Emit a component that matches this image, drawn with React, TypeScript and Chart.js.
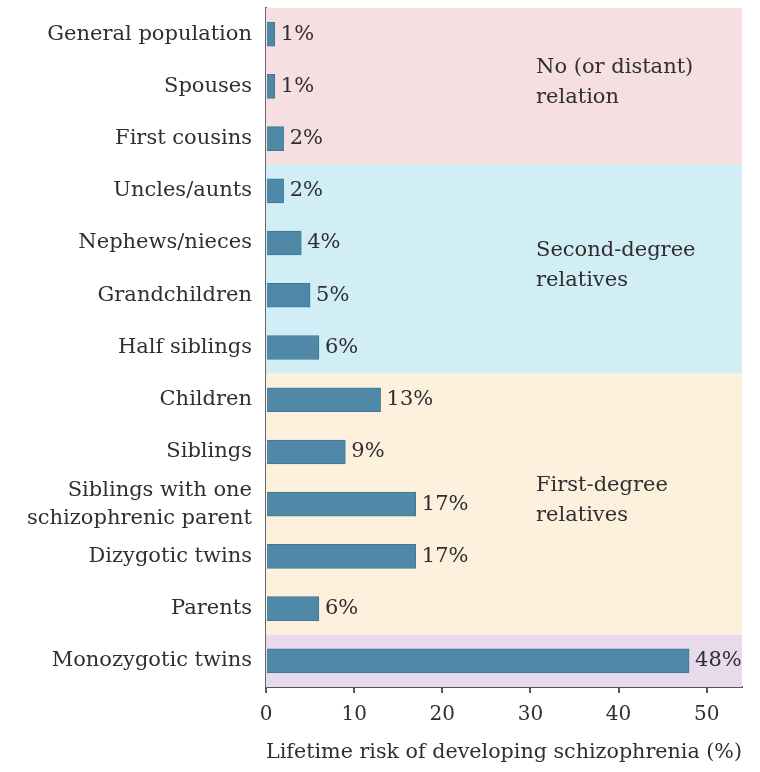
import React, { useEffect, useRef } from "react";
import { Chart, registerables } from "chart.js";

Chart.register(...registerables);

const categories: (string | string[])[] = [
  "General population",
  "Spouses",
  "First cousins",
  "Uncles/aunts",
  "Nephews/nieces",
  "Grandchildren",
  "Half siblings",
  "Children",
  "Siblings",
  ["Siblings with one", "schizophrenic parent"],
  "Dizygotic twins",
  "Parents",
  "Monozygotic twins",
];
const risks = [1, 1, 2, 2, 4, 5, 6, 13, 9, 17, 17, 6, 48];

const groupNames: string[][] = [
  ["No (or distant)", "relation"],
  ["Second-degree", "relatives"],
  ["First-degree", "relatives"],
  [],
];
const groupSizes = [3, 4, 5, 1];
const groupColors = ["#F5DFE0", "#D1EDF5", "#FDF1DE", "#E7DBEB"];

const xTicks = [0, 10, 20, 30, 40, 50];
const xMax = 54;
const xTitle = "Lifetime risk of developing schizophrenia (%)";

const FONT = "'DejaVu Serif', 'Liberation Serif', serif";
const FS = 21;
const TEXT = "#2f2f2f";

const bandsPlugin = {
  id: "bands",
  beforeDatasetsDraw(chart: any) {
    const { ctx, chartArea, scales } = chart;
    const y = scales.y;
    const step = y.getPixelForValue(1) - y.getPixelForValue(0);
    let start = 0;
    ctx.save();
    groupSizes.forEach((n, gi) => {
      const top = gi === 0 ? chartArea.top : y.getPixelForValue(start) - step / 2;
      const end = start + n - 1;
      const bottom = gi === groupSizes.length - 1 ? chartArea.bottom : y.getPixelForValue(end) + step / 2;
      ctx.fillStyle = groupColors[gi];
      ctx.fillRect(chartArea.left, top, chartArea.right - chartArea.left, bottom - top);
      const lines = groupNames[gi];
      if (lines.length) {
        ctx.fillStyle = TEXT;
        ctx.font = `${FS}px ${FONT}`;
        ctx.textAlign = "left";
        ctx.textBaseline = "middle";
        const lh = 30;
        const mid = (top + bottom) / 2 - 4;
        lines.forEach((t, i) => {
          ctx.fillText(t, 536, mid + (i - (lines.length - 1) / 2) * lh);
        });
      }
      start += n;
    });
    ctx.restore();
  },
  afterDatasetsDraw(chart: any) {
    const { ctx } = chart;
    const meta = chart.getDatasetMeta(0);
    ctx.save();
    ctx.fillStyle = TEXT;
    ctx.font = `${FS}px ${FONT}`;
    ctx.textAlign = "left";
    ctx.textBaseline = "middle";
    meta.data.forEach((bar: any, i: number) => {
      ctx.fillText(`${risks[i]}%`, bar.x + 6, bar.y);
    });
    ctx.restore();
  },
};

export default function App() {
  const ref = useRef<HTMLCanvasElement | null>(null);
  useEffect(() => {
    if (!ref.current) return;
    const chart = new Chart(ref.current, {
      type: "bar",
      data: {
        labels: categories,
        datasets: [
          {
            data: risks,
            backgroundColor: "#4F89A7",
            borderColor: "#3F7896",
            borderWidth: 1,
            barThickness: 24,
          },
        ],
      },
      options: {
        indexAxis: "y",
        animation: false,
        responsive: false,
        maintainAspectRatio: false,
        layout: { padding: { top: 8, right: 18, left: 0, bottom: 0 } },
        plugins: { legend: { display: false }, tooltip: { enabled: false } },
        scales: {
          x: {
            type: "linear",
            min: 0,
            max: xMax,
            afterBuildTicks(scale: any) {
              scale.ticks = xTicks.map((v) => ({ value: v }));
            },
            afterFit(scale: any) {
              scale.height = 85;
              scale.paddingLeft = 0;
              scale.paddingRight = 0;
            },
            border: { display: true, color: "#555", width: 2 },
            grid: { display: true, drawOnChartArea: false, drawTicks: true, tickLength: 6, color: "#555", lineWidth: 2 },
            ticks: { color: TEXT, font: { family: FONT, size: 20 }, padding: 10, maxRotation: 0 },
            title: {
              display: true,
              text: xTitle,
              color: TEXT,
              font: { family: FONT, size: FS },
              padding: { top: 0, bottom: 7 },
            },
          },
          y: {
            type: "category",
            afterFit(scale: any) {
              scale.width = 266;
              scale.paddingTop = 0;
              scale.paddingBottom = 0;
            },
            border: { display: true, color: "#666", width: 2 },
            grid: { display: false, drawTicks: false },
            ticks: {
              color: TEXT,
              font: { family: FONT, size: FS, lineHeight: 1.33 },
              padding: 14,
              autoSkip: false,
            },
          },
        },
      },
      plugins: [bandsPlugin],
    } as any);
    return () => chart.destroy();
  }, []);
  return (
    <div style={{ position: "absolute", left: 0, top: 0, width: 760, height: 772, background: "#fff" }}>
      <canvas ref={ref} width={760} height={772} style={{ display: "block" }} />
    </div>
  );
}
